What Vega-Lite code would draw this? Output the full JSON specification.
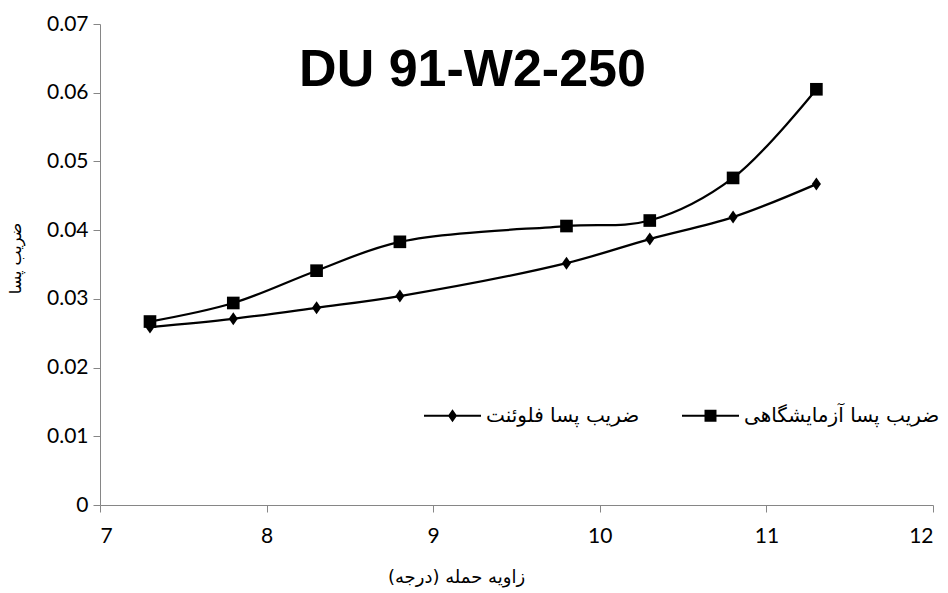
{
  "$schema": "https://vega.github.io/schema/vega-lite/v6.json",
  "width": 833,
  "height": 481,
  "autosize": {"type": "none"},
  "padding": {"left": 100, "top": 24, "right": 15, "bottom": 88},
  "background": "white",
  "title": {
    "text": "DU 91-W2-250",
    "font": "Liberation Sans",
    "fontSize": 52,
    "fontWeight": "bold",
    "color": "black",
    "anchor": "middle",
    "frame": "group",
    "dx": -44,
    "offset": -84
  },
  "config": {
    "view": {"stroke": null},
    "axis": {
      "grid": false,
      "domainColor": "#868686",
      "tickColor": "#868686",
      "tickSize": 7,
      "labelFont": "Lato",
      "labelFontSize": 21,
      "labelColor": "black",
      "titleColor": "black",
      "titleFontWeight": "normal"
    }
  },
  "data": {
    "values": [
      {"angle": 7.3, "cd": 0.0259, "series": "ضریب پسا فلوئنت"},
      {"angle": 7.8, "cd": 0.0271, "series": "ضریب پسا فلوئنت"},
      {"angle": 8.3, "cd": 0.0287, "series": "ضریب پسا فلوئنت"},
      {"angle": 8.8, "cd": 0.0304, "series": "ضریب پسا فلوئنت"},
      {"angle": 9.8, "cd": 0.0352, "series": "ضریب پسا فلوئنت"},
      {"angle": 10.3, "cd": 0.0387, "series": "ضریب پسا فلوئنت"},
      {"angle": 10.8, "cd": 0.0419, "series": "ضریب پسا فلوئنت"},
      {"angle": 11.3, "cd": 0.0467, "series": "ضریب پسا فلوئنت"},
      {"angle": 7.3, "cd": 0.0267, "series": "ضریب پسا آزمایشگاهی"},
      {"angle": 7.8, "cd": 0.0294, "series": "ضریب پسا آزمایشگاهی"},
      {"angle": 8.3, "cd": 0.0341, "series": "ضریب پسا آزمایشگاهی"},
      {"angle": 8.8, "cd": 0.0383, "series": "ضریب پسا آزمایشگاهی"},
      {"angle": 9.8, "cd": 0.0406, "series": "ضریب پسا آزمایشگاهی"},
      {"angle": 10.3, "cd": 0.0414, "series": "ضریب پسا آزمایشگاهی"},
      {"angle": 10.8, "cd": 0.0476, "series": "ضریب پسا آزمایشگاهی"},
      {"angle": 11.3, "cd": 0.0605, "series": "ضریب پسا آزمایشگاهی"}
    ]
  },
  "encoding": {
    "x": {
      "field": "angle",
      "type": "quantitative",
      "scale": {"domain": [7, 12], "nice": false, "zero": false},
      "axis": {
        "values": [7, 8, 9, 10, 11, 12],
        "title": "زاویه حمله (درجه)",
        "titleFont": "DejaVu Sans",
        "titleFontSize": 18,
        "titleX": 356,
        "titleY": 72,
        "titleBaseline": "middle",
        "labelPadding": 13
      }
    },
    "y": {
      "field": "cd",
      "type": "quantitative",
      "scale": {"domain": [0, 0.07], "nice": false},
      "axis": {
        "values": [0, 0.01, 0.02, 0.03, 0.04, 0.05, 0.06, 0.07],
        "format": ".2~f",
        "title": "ضریب پسا",
        "titleFont": "DejaVu Sans",
        "titleFontSize": 16,
        "titleX": -85,
        "titleY": 234,
        "titleAngle": -90,
        "titleAlign": "center",
        "titleBaseline": "middle",
        "labelPadding": 5
      }
    }
  },
  "layer": [
    {
      "mark": {"type": "line", "interpolate": "catmull-rom", "color": "black", "strokeWidth": 2.25},
      "encoding": {"detail": {"field": "series"}}
    },
    {
      "transform": [{"filter": "datum.series === 'ضریب پسا فلوئنت'"}],
      "mark": {"type": "point", "filled": true, "color": "black", "opacity": 1, "size": 169, "shape": "M0,-1L0.7,0L0,1L-0.7,0Z"}
    },
    {
      "transform": [{"filter": "datum.series === 'ضریب پسا آزمایشگاهی'"}],
      "mark": {"type": "point", "filled": true, "color": "black", "opacity": 1, "size": 160, "shape": "square"}
    },
    {
      "transform": [{"filter": "false"}],
      "mark": {"type": "point", "filled": true, "color": "black", "opacity": 1},
      "encoding": {
        "shape": {
          "field": "series",
          "type": "nominal",
          "scale": {
            "domain": ["ضریب پسا فلوئنت", "ضریب پسا آزمایشگاهی"],
            "range": ["M-1,-0.038L1,-0.038L1,0.038L-1,0.038ZM0,-0.23L0.16,0L0,0.23L-0.16,0Z", "M-1,-0.038L1,-0.038L1,0.038L-1,0.038ZM-0.21,-0.21L0.21,-0.21L0.21,0.21L-0.21,0.21Z"]
          },
          "legend": {
            "title": null,
            "orient": "none",
            "legendX": 323,
            "legendY": 362,
            "direction": "horizontal",
            "columnPadding": 39,
            "symbolSize": 3249,
            "symbolFillColor": "black",
            "labelFont": "DejaVu Sans",
            "labelFontSize": 20,
            "labelColor": "black",
            "labelOffset": 4,
            "labelLimit": 400
          }
        }
      }
    }
  ]
}
